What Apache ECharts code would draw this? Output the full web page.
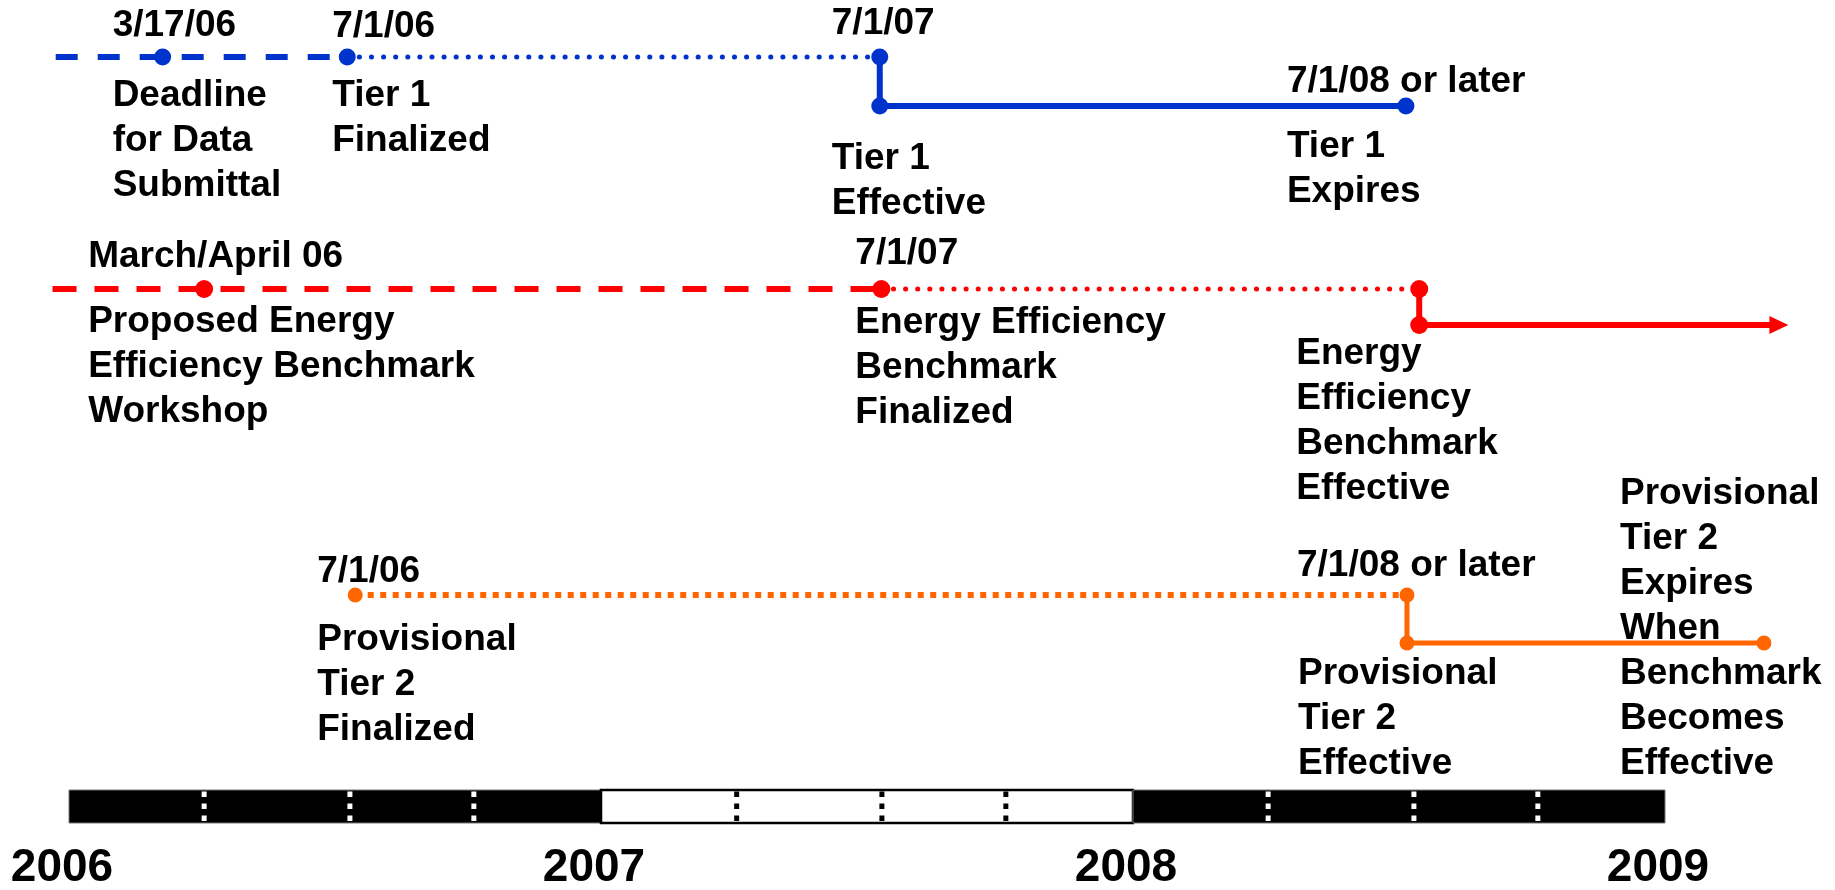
<!DOCTYPE html>
<html>
<head>
    <meta charset="utf-8" />
    <title>Benchmark timeline</title>
    <style>
        html, body { margin: 0; padding: 0; background: #fff; }
    </style>
</head>
<body>

<div style="width: 1835px; height: 890px;" id="container"></div>

<script src="https://cdn.jsdelivr.net/npm/echarts@6/dist/echarts.min.js"></script>

<script type="text/javascript">

    // ---- data (dates as decimal years) ----
    var yearLabels = [2006, 2007, 2008, 2009];
    var axisStart = 2005.95;  // a little room left of 2006 for the dashed starts
    var axisEnd = 2009.25;    // room on the right for the arrow and the last notes
    var yearBands = [2006, 2007, 2008];
    var bandFill = ['#000', '#fff', '#000'];
    var quarterMarks = [2006.254, 2006.528, 2006.761, 2007.255, 2007.528, 2007.761, 2008.254, 2008.528, 2008.761];

    // Tier 1 (blue)
    var tier1Start = 2005.975;
    var tier1Years = [2006.176, 2006.523, 2007.524, 2008.513];
    var tier1Dates = ['3/17/06', '7/1/06', '7/1/07', '7/1/08 or later'];
    var tier1Notes = ['Deadline\nfor Data\nSubmittal', 'Tier 1\nFinalized', 'Tier 1\nEffective', 'Tier 1\nExpires'];

    // Energy efficiency benchmark (red)
    var benchStart = 2005.969;
    var benchYears = [2006.254, 2007.527, 2008.538, 2009.214];
    var benchDates = ['March/April 06', '7/1/07'];
    var benchNotes = ['Proposed Energy\nEfficiency Benchmark\nWorkshop', 'Energy Efficiency\nBenchmark\nFinalized', 'Energy\nEfficiency\nBenchmark\nEffective'];

    // Provisional tier 2 (orange)
    var tier2Years = [2006.538, 2008.515, 2009.186];
    var tier2Dates = ['7/1/06', '7/1/08 or later'];
    var tier2Notes = ['Provisional\nTier 2\nFinalized', 'Provisional\nTier 2\nEffective', 'Provisional\nTier 2\nExpires\nWhen\nBenchmark\nBecomes\nEffective'];

    // ---- layout ----
    var BLUE = '#0033cc', RED = '#ff0000', ORANGE = '#ff6600';
    var FONT = '"Liberation Sans", Arial, Helvetica, sans-serif';
    // row levels on the hidden vertical axis (0 = top)
    var rowTier1 = [57, 106];
    var rowBench = [289, 325];
    var rowTier2 = [595, 643];
    var barRow = [790, 823];
    var CAP = 9; // distance from text box top to cap top

    var t1Pts = [[tier1Years[0], rowTier1[0]], [tier1Years[1], rowTier1[0]], [tier1Years[2], rowTier1[0]],
                 [tier1Years[2], rowTier1[1]], [tier1Years[3], rowTier1[1]]];
    var bPts = [[benchYears[0], rowBench[0]], [benchYears[1], rowBench[0]], [benchYears[2], rowBench[0]],
                [benchYears[2], rowBench[1]]];
    var t2Pts = [[tier2Years[0], rowTier2[0]], [tier2Years[1], rowTier2[0]], [tier2Years[1], rowTier2[1]],
                 [tier2Years[2], rowTier2[1]]];

    // label placement: [point index, dx, cap offset]
    var t1DatePlace = [[0, -50, -45], [1, -15, -44], [2, -48, -47], [4, -119, -38]];
    var t1NotePlace = [[0, -50, 25], [1, -15, 25], [3, -48, 39], [4, -119, 27]];
    var bDatePlace = [[0, -116, -46], [1, -26, -49]];
    var bNotePlace = [[0, -116, 19], [1, -26, 20], [3, -123, 15]];
    var t2DatePlace = [[0, -38, -37], [1, -110, -43]];
    var t2NotePlace = [[0, -38, 31], [2, -109, 17], [3, -144, -163]];

    function labelSeries(pts, texts, place) {
        return {
            type: 'scatter',
            symbol: 'circle',
            symbolSize: 1,
            clip: false,
            itemStyle: { color: 'rgba(0,0,0,0)', opacity: 1 },
            silent: true,
            z: 5,
            data: place.map(function (p, i) {
                return {
                    value: pts[p[0]],
                    label: {
                        show: true,
                        position: 'inside',
                        align: 'left',
                        verticalAlign: 'top',
                        formatter: texts[i],
                        offset: [p[1], p[2] - CAP],
                        color: '#000',
                        fontFamily: FONT,
                        fontWeight: 'bold',
                        fontSize: 37,
                        lineHeight: 45,
                        textBorderWidth: 0
                    }
                };
            })
        };
    }

    function lineSeries(data, color, width, dash, cap) {
        return {
            type: 'line',
            data: data,
            symbol: 'none',
            showSymbol: false,
            clip: false,
            silent: true,
            z: 2,
            lineStyle: { color: color, width: width, type: dash, cap: cap || 'butt', join: 'round', opacity: 1 }
        };
    }

    function pointSeries(pts, color, size) {
        return {
            type: 'scatter',
            data: pts,
            symbol: 'circle',
            symbolSize: size,
            clip: false,
            silent: true,
            z: 3,
            itemStyle: { color: color, opacity: 1 }
        };
    }

    var chart = echarts.init(document.getElementById('container'));

    chart.setOption({
        animation: false,
        backgroundColor: '#fff',
        grid: { left: 42.4, right: 37, top: 0, bottom: 890 - barRow[1], containLabel: false, outerBoundsMode: 'none' },
        xAxis: {
            type: 'value',
            min: axisStart,
            max: axisEnd,
            interval: 0.05,
            axisLine: { show: false },
            axisTick: { show: false },
            splitLine: { show: false },
            axisLabel: {
                interval: 0,
                margin: 22,
                padding: [0, 14, 0, 0],
                color: '#000',
                fontFamily: FONT,
                fontWeight: 'bold',
                fontSize: 46,
                showMinLabel: true,
                showMaxLabel: true,
                formatter: function (v) {
                    var y = Math.round(v);
                    return (Math.abs(v - y) < 1e-6 && yearLabels.indexOf(y) >= 0) ? String(y) : '';
                }
            }
        },
        yAxis: {
            type: 'value',
            inverse: true,
            min: 0,
            max: barRow[1],
            show: false
        },
        series: [
            // year bands of the timeline bar
            {
                type: 'custom',
                silent: true,
                clip: false,
                z: 1,
                data: yearBands.map(function (y) { return [y, barRow[0]]; }),
                encode: { x: 0, y: 1 },
                renderItem: function (params, api) {
                    var a = api.coord([api.value(0), barRow[0]]);
                    var b = api.coord([api.value(0) + 1, barRow[1]]);
                    var fill = bandFill[params.dataIndex];
                    return {
                        type: 'rect',
                        shape: { x: a[0], y: a[1], width: b[0] - a[0], height: b[1] - a[1] },
                        style: {
                            fill: fill,
                            stroke: fill === '#fff' ? '#000' : '#777',
                            lineWidth: fill === '#fff' ? 2.5 : 1
                        }
                    };
                }
            },
            // quarter marks inside the bar
            {
                type: 'custom',
                silent: true,
                clip: false,
                z: 2,
                data: quarterMarks.map(function (q) { return [q, barRow[0]]; }),
                encode: { x: 0, y: 1 },
                renderItem: function (params, api) {
                    var q = api.value(0);
                    var a = api.coord([q, barRow[0]]);
                    var b = api.coord([q, barRow[1]]);
                    var fill = bandFill[Math.floor(q) - yearBands[0]];
                    return {
                        type: 'line',
                        shape: { x1: a[0], y1: a[1] + 1.5, x2: b[0], y2: b[1] - 1 },
                        style: {
                            stroke: fill === '#000' ? '#fff' : '#000',
                            lineWidth: 5,
                            lineDash: [5.5, 6.5]
                        }
                    };
                }
            },

            // Tier 1
            lineSeries([[tier1Start, rowTier1[0]], t1Pts[0], t1Pts[1]], BLUE, 6, [22, 20]),
            lineSeries([t1Pts[1], t1Pts[2]], BLUE, 5, [0.1, 12], 'round'),
            lineSeries([t1Pts[2], t1Pts[3], t1Pts[4]], BLUE, 6, 'solid'),
            pointSeries(t1Pts, BLUE, 17),
            labelSeries(t1Pts, tier1Dates, t1DatePlace),
            labelSeries(t1Pts, tier1Notes, t1NotePlace),

            // Benchmark
            lineSeries([[benchStart, rowBench[0]], bPts[0], bPts[1]], RED, 6, [24, 18]),
            lineSeries([bPts[1], bPts[2]], RED, 5, [0.1, 12], 'round'),
            lineSeries([bPts[2], bPts[3], [benchYears[3], rowBench[1]]], RED, 6, 'solid'),
            pointSeries(bPts, RED, 18),
            {
                type: 'scatter',
                data: [[benchYears[3], rowBench[1]]],
                symbol: 'triangle',
                symbolSize: [18, 19],
                symbolRotate: -90,
                clip: false,
                silent: true,
                z: 3,
                itemStyle: { color: RED, opacity: 1 }
            },
            labelSeries(bPts, benchDates, bDatePlace),
            labelSeries(bPts, benchNotes, bNotePlace),

            // Provisional Tier 2
            lineSeries([t2Pts[0], t2Pts[1]], ORANGE, 6, [6, 6.5]),
            lineSeries([t2Pts[1], t2Pts[2], t2Pts[3]], ORANGE, 5, 'solid'),
            pointSeries(t2Pts, ORANGE, 15),
            labelSeries(t2Pts, tier2Dates, t2DatePlace),
            labelSeries(t2Pts, tier2Notes, t2NotePlace)
        ]
    });

</script>

</body>
</html>
